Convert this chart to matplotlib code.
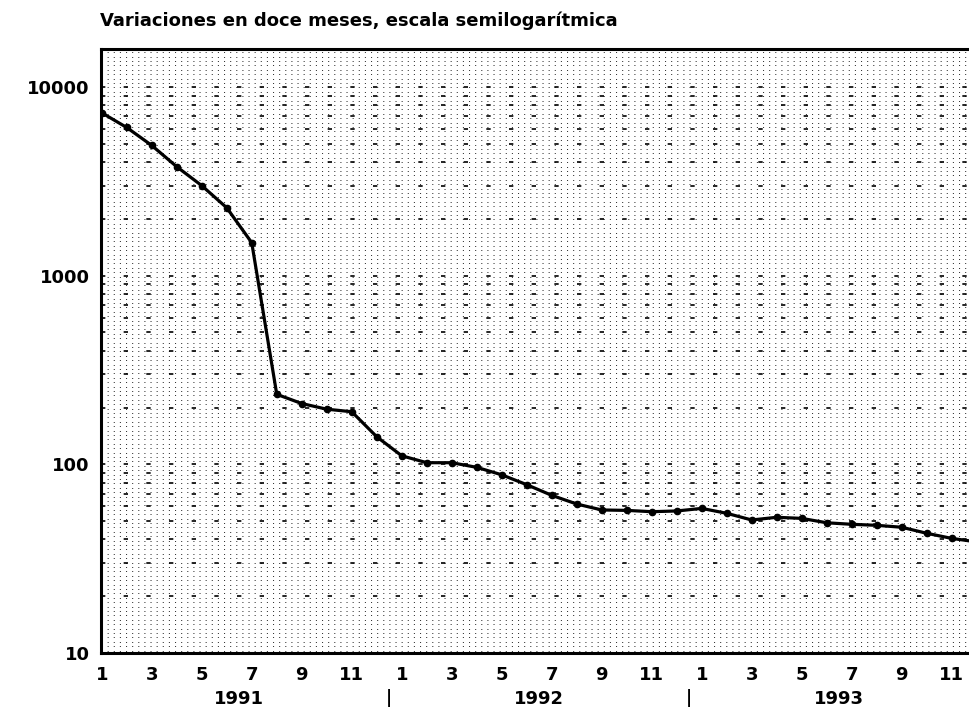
import numpy as np
import matplotlib.pyplot as plt
from matplotlib.ticker import FixedLocator, NullFormatter

# monthly data, Jan 1991 .. Dec 1993
months = list(range(1, 13)) * 3
years = ['1991', '1992', '1993']
variacion = [7300, 6100, 4900, 3780, 3000, 2290, 1495, 235, 210, 196, 190, 140,
             111, 102, 102, 96.4, 88, 78, 68.5, 61.6, 57.3, 57.0, 56.1, 56.6,
             58.4, 55.0, 50.7, 52.4, 51.7, 49.0, 48.1, 47.5, 46.4, 43.1, 40.5, 38.8]
ytick_vals = [10, 100, 1000, 10000]

font = dict(family='DejaVu Sans', weight='bold')

fig = plt.figure(figsize=(9.69, 7.08), dpi=100)
W, H = 969, 708
ax = fig.add_axes([101 / W, 55 / H, 1 - 101 / W, 604 / H])

x = np.arange(len(variacion))
ax.set_yscale('log')
ax.set_ylim(10, 15900)
ax.set_xlim(-0.03, 34.69)

# fine dot texture of the background
for f in np.arange(0.004, 1.0, 4.4 / 604):
    ax.plot([0, 1], [f, f], transform=ax.transAxes, color='0.2', lw=0.7,
            ls=(0, (1.1, 5.2)), zorder=0)

# dashed rows at every 1..9 x decade
minor = [m * 10 ** k for k in range(1, 5) for m in range(1, 10)]
for v in minor:
    if 10 < v < 15900:
        ax.axhline(v, color='black', lw=1.2, ls=(0, (2.6, 11)), zorder=1)

ax.plot(x, variacion, color='black', lw=2.3, marker='o', ms=4.5, zorder=3)

ax.yaxis.set_major_locator(FixedLocator(ytick_vals))
ax.yaxis.set_minor_locator(FixedLocator([]))
ax.set_yticklabels([str(v) for v in ytick_vals], fontsize=13, **font)
ax.yaxis.set_minor_formatter(NullFormatter())
ax.tick_params(axis='y', length=0, pad=8)

odd = [i for i in x if months[i] % 2 == 1]
ax.set_xticks(odd)
ax.set_xticklabels([str(months[i]) for i in odd], fontsize=13, **font)
ax.tick_params(axis='x', length=0, pad=9)

for j, yr in enumerate(years):
    ax.annotate(yr, xy=(12 * j + 5.5, 0), xycoords=('data', 'axes fraction'),
                xytext=(0, -46), textcoords='offset pixels', ha='center',
                va='center', fontsize=13, **font)
for sep in [11.5, 23.5]:
    ax.annotate('|', xy=(sep, 0), xycoords=('data', 'axes fraction'),
                xytext=(0, -45), textcoords='offset pixels', ha='center',
                va='center', fontsize=12, **font)

for s in ['left', 'bottom', 'top']:
    ax.spines[s].set_linewidth(2.2)
ax.spines['right'].set_visible(False)

fig.text(100 / W, 1 - 21 / H, 'Variaciones en doce meses, escala semilogarítmica',
         fontsize=13, va='center', ha='left', **font)

fig.savefig('out.png', dpi=100)
